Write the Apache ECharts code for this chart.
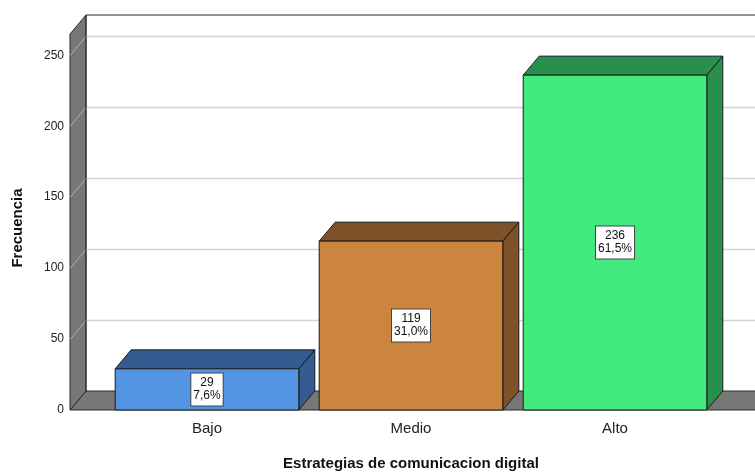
<!DOCTYPE html>
<html><head><meta charset="utf-8">
<script src="https://cdn.jsdelivr.net/npm/echarts@6/dist/echarts.min.js"></script>
<style>html,body{margin:0;padding:0;background:#fff}#c{width:755px;height:473px}</style>
</head><body><div id="c"></div>
<script>
const categories = ['Bajo', 'Medio', 'Alto'];
const counts = [29, 119, 236];
const percents = ['7,6%', '31,0%', '61,5%'];
const yTicks = [0, 50, 100, 150, 200, 250];
const frontColors = ['#5495e3', '#cc853f', '#42e97d'];
const darkColors = ['#345c90', '#7e5229', '#288f4c'];
const DX = 16, DY = -19;
const FONT = 'Arial, "Liberation Sans", sans-serif';

const chart = echarts.init(document.getElementById('c'));

function frameRender(params, api) {
  const cs = params.coordSys;
  const W = api.getWidth();
  const x0 = cs.x - 35;
  const y0 = api.coord([0, 0])[1];
  const yTop = cs.y;
  const ch = [];
  ch.push({type: 'polygon', shape: {points: [[x0, y0], [x0 + DX, y0 + DY], [W + 2, y0 + DY], [W + 2, y0]]},
    style: {fill: '#777777', stroke: '#2a2a2a', lineWidth: 1}});
  ch.push({type: 'polygon', shape: {points: [[x0, yTop], [x0 + DX, yTop + DY], [x0 + DX, y0 + DY], [x0, y0]]},
    style: {fill: '#777777', stroke: '#2a2a2a', lineWidth: 1}});
  yTicks.forEach(v => {
    if (v === 0) return;
    const y = Math.round(api.coord([0, v])[1]) + 0.5;
    ch.push({type: 'line', shape: {x1: x0 + DX, y1: y + DY, x2: W + 2, y2: y + DY}, style: {stroke: '#d4d4d4', lineWidth: 1.5}});
    ch.push({type: 'line', shape: {x1: x0, y1: y, x2: x0 + DX, y2: y + DY}, style: {stroke: '#b0b0b0', lineWidth: 1}});
  });
  ch.push({type: 'line', shape: {x1: x0 + DX, y1: yTop + DY, x2: W + 2, y2: yTop + DY}, style: {stroke: '#2a2a2a', lineWidth: 1}});
  ch.push({type: 'line', shape: {x1: x0 + DX, y1: yTop + DY, x2: x0 + DX, y2: y0 + DY}, style: {stroke: '#2a2a2a', lineWidth: 1}});
  return {type: 'group', children: ch};
}

function barRender(params, api) {
  const i = params.dataIndex;
  const top = api.coord([api.value(0), api.value(1)]);
  const bot = api.coord([api.value(0), 0]);
  const bw = api.size([1, 0])[0] * 0.9;
  const xl = top[0] - bw / 2, xr = top[0] + bw / 2;
  const yt = top[1], yb = bot[1];
  const stroke = '#1a1a1a';
  return {type: 'group', children: [
    {type: 'polygon', shape: {points: [[xl, yt], [xl + DX, yt + DY], [xr + DX, yt + DY], [xr, yt]]},
      style: {fill: darkColors[i], stroke: stroke, lineWidth: 1}},
    {type: 'polygon', shape: {points: [[xr, yt], [xr + DX, yt + DY], [xr + DX, yb + DY], [xr, yb]]},
      style: {fill: darkColors[i], stroke: stroke, lineWidth: 1}},
    {type: 'rect', shape: {x: xl, y: yt, width: bw, height: yb - yt},
      style: {fill: frontColors[i], stroke: stroke, lineWidth: 1}},
    {type: 'text', x: top[0], y: (yt + yb) / 2,
      style: {text: counts[i] + '\n' + percents[i], fill: '#111', font: '12px ' + FONT,
        align: 'center', verticalAlign: 'middle', lineHeight: 13,
        backgroundColor: '#ffffff', borderColor: '#444', borderWidth: 1, padding: [3, 2, 3, 2]}}
  ]};
}

chart.setOption({
  animation: false,
  grid: {left: 105, width: 612, top: 34, bottom: 63, outerBoundsMode: 'none', containLabel: false},
  xAxis: {
    type: 'category', data: categories,
    axisLine: {show: false}, axisTick: {show: false},
    axisLabel: {fontSize: 15, color: '#222', margin: 11, fontFamily: FONT},
    name: 'Estrategias de comunicacion digital', nameLocation: 'middle', nameGap: 46,
    nameTextStyle: {fontWeight: 'bold', fontSize: 15, color: '#111', fontFamily: FONT}
  },
  yAxis: {
    type: 'value', min: 0, max: 265, interval: 50,
    axisLine: {show: false}, axisTick: {show: false}, splitLine: {show: false},
    axisLabel: {fontSize: 12, color: '#222', margin: 41, fontFamily: FONT,
      formatter: v => yTicks.includes(v) ? String(v) : ''},
    name: 'Frecuencia', nameLocation: 'middle', nameGap: 80,
    nameTextStyle: {fontWeight: 'bold', fontSize: 15, color: '#111', fontFamily: FONT, padding: [0, 12, 0, 0]}
  },
  series: [
    {type: 'custom', clip: false, z: 1, silent: true, data: [[0, 0]], renderItem: frameRender},
    {type: 'custom', clip: false, z: 2, data: counts.map((v, i) => [i, v]), encode: {x: 0, y: 1}, renderItem: barRender}
  ]
});
</script></body></html>
